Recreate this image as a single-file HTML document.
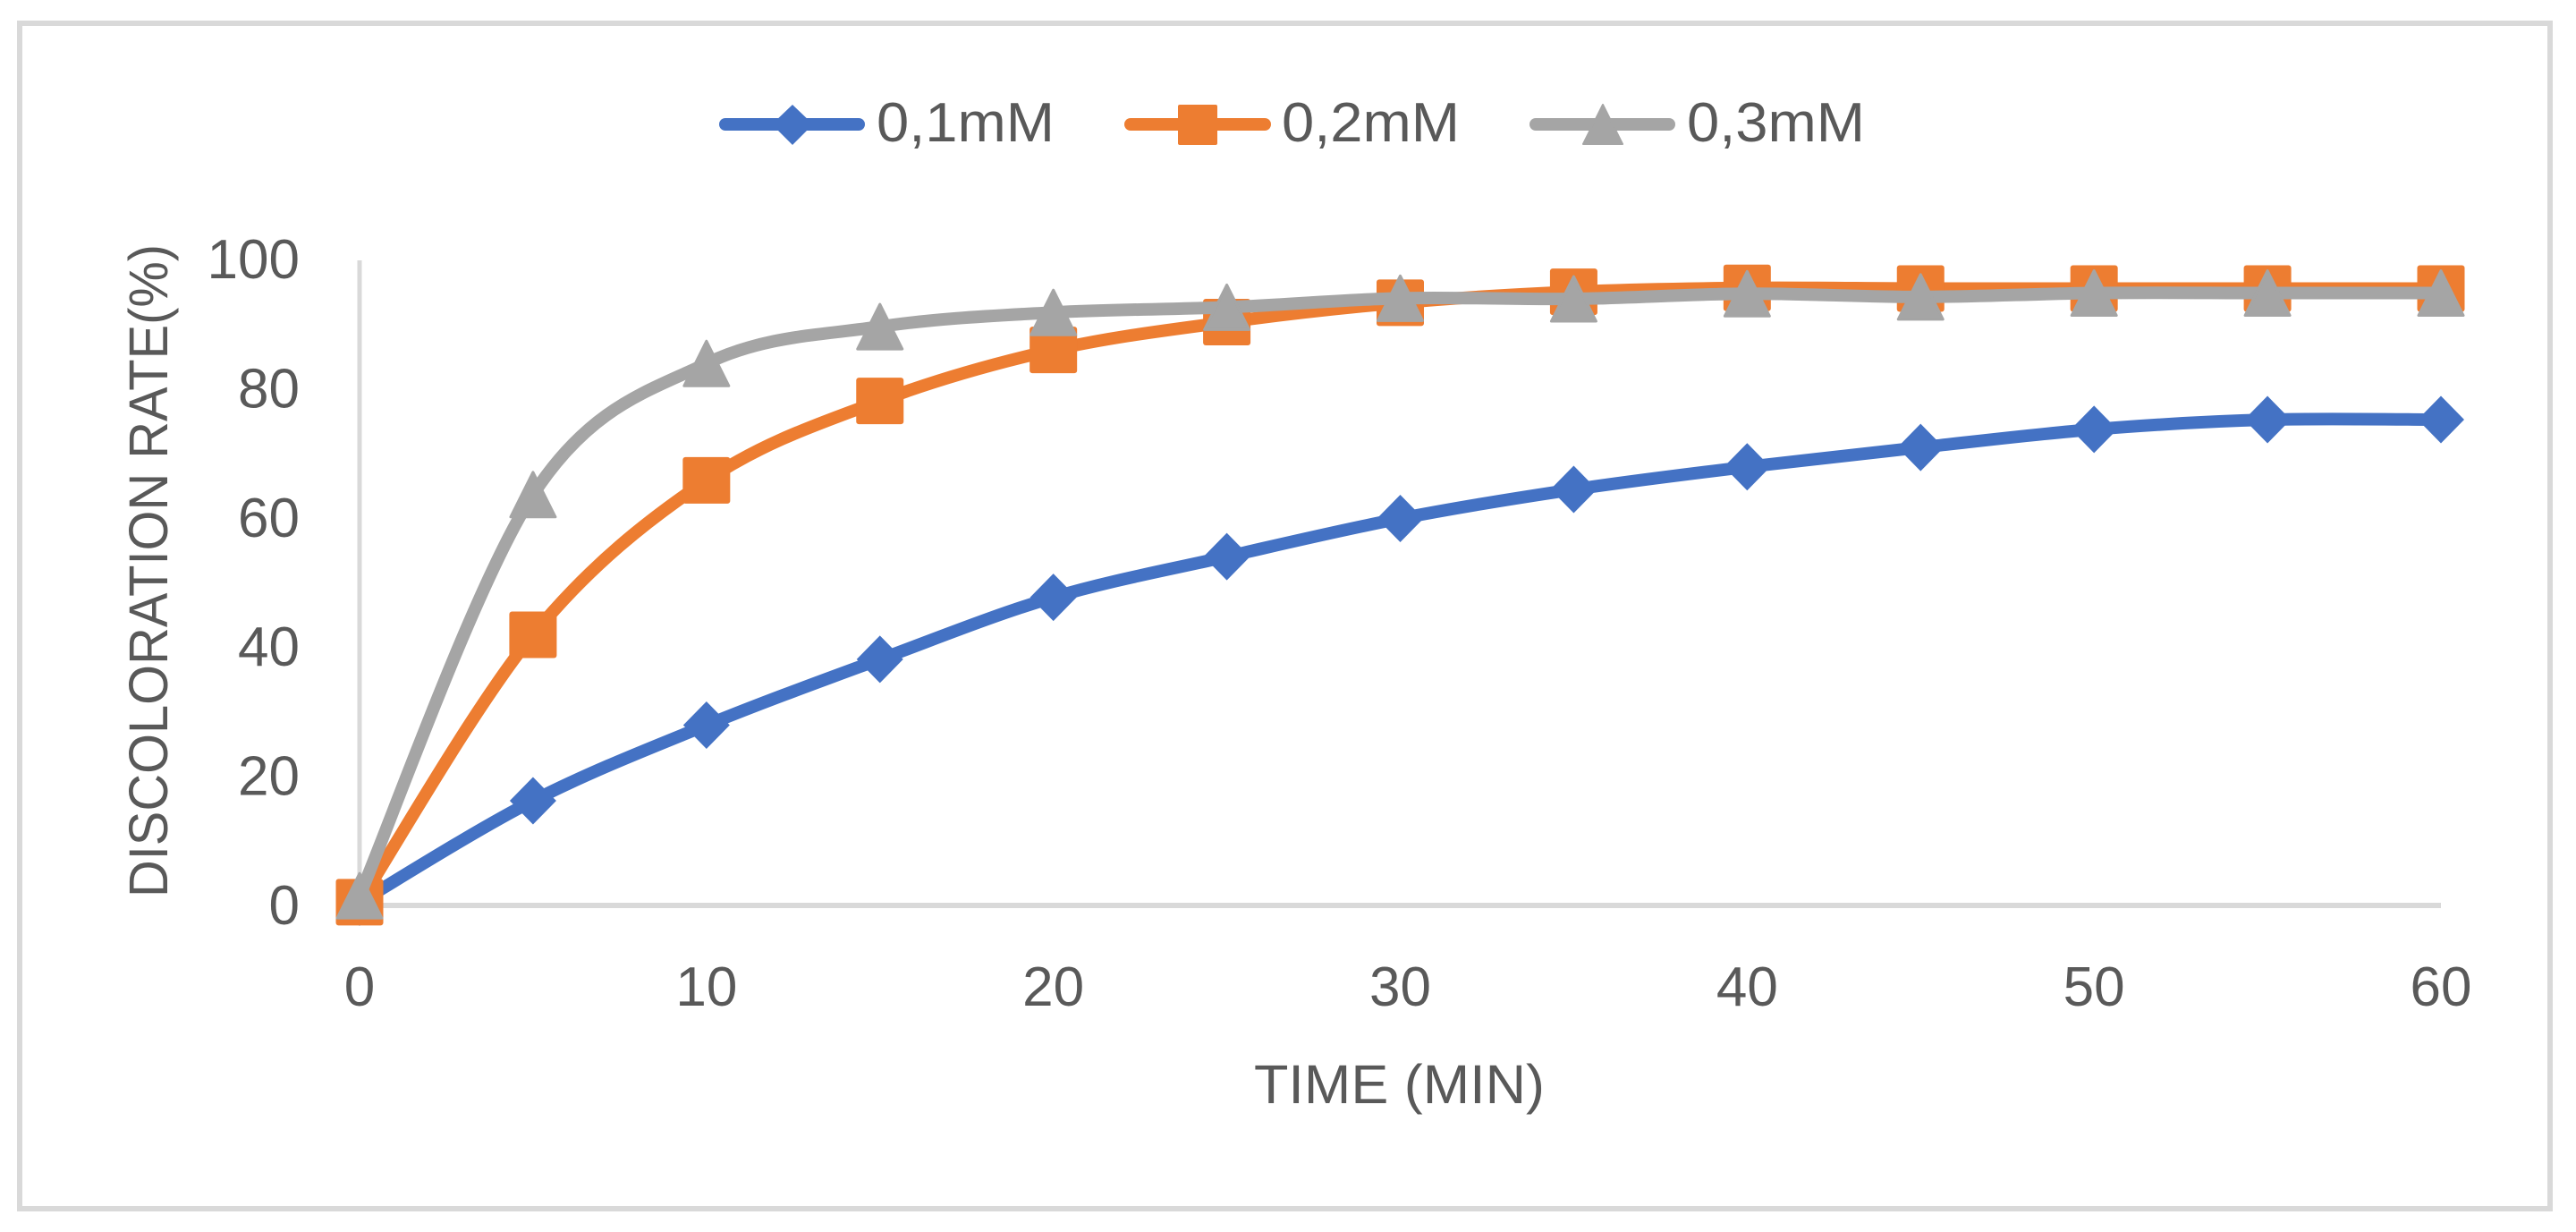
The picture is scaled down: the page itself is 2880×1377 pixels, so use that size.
<!DOCTYPE html>
<html lang="en">
<head>
<meta charset="utf-8">
<title>Discoloration rate over time</title>
<style>
  html, body { margin: 0; padding: 0; background: #fff; }
  svg { display: block; }
  text { font-family: "Liberation Sans", sans-serif; fill: #595959; }
</style>
</head>
<body>
<svg id="chart" xmlns="http://www.w3.org/2000/svg" width="2880" height="1377" viewBox="0 0 2880 1377">
  <rect x="0" y="0" width="2880" height="1377" fill="#ffffff"/>
  <rect x="22" y="26" width="2829" height="1325" fill="#ffffff" stroke="#d9d9d9" stroke-width="6"/>

  <g>
    <g>
      <line x1="811" y1="139" x2="960" y2="139" stroke="#4472c4" stroke-width="14" stroke-linecap="round"/>
      <polygon points="886,117 909,139 886,162 863,139" fill="#4472c4"/>
      <text x="980" y="158" font-size="62" textLength="199" lengthAdjust="spacingAndGlyphs">0,1mM</text>
    </g>
    <g>
      <line x1="1264" y1="139" x2="1414" y2="139" stroke="#ed7d31" stroke-width="14" stroke-linecap="round"/>
      <rect x="1317" y="117" width="44" height="45" rx="2" fill="#ed7d31"/>
      <text x="1433" y="158" font-size="62" textLength="199" lengthAdjust="spacingAndGlyphs">0,2mM</text>
    </g>
    <g>
      <line x1="1717" y1="139" x2="1866" y2="139" stroke="#a5a5a5" stroke-width="14" stroke-linecap="round"/>
      <polygon points="1792,117 1814,161 1770,161" fill="#a5a5a5" stroke="#a5a5a5" stroke-width="2" stroke-linejoin="round"/>
      <text x="1886" y="158" font-size="62" textLength="199" lengthAdjust="spacingAndGlyphs">0,3mM</text>
    </g>
  </g>

  <text transform="translate(187,1003) rotate(-90)" font-size="61" textLength="730" lengthAdjust="spacingAndGlyphs">DISCOLORATION RATE(%)</text>
  <text x="1402" y="1233" font-size="61" textLength="325" lengthAdjust="spacingAndGlyphs">TIME (MIN)</text>

  <g id="axes"></g>
  <g id="series"></g>
</svg>
<script>
const categories = [0, 5, 10, 15, 20, 25, 30, 35, 40, 45, 50, 55, 60];
const blueValues = [0.5, 16.2, 27.9, 38.1, 47.7, 54, 59.9, 64.4, 67.9, 70.9, 73.7, 75.2, 75.2];
const orangeValues = [0.5, 41.9, 65.8, 78.1, 86, 90.3, 93.3, 95, 95.6, 95.5, 95.5, 95.5, 95.5];
const greyValues = [1.5, 63.6, 83.9, 89.6, 91.8, 92.6, 94, 93.9, 94.7, 94.2, 94.8, 94.8, 94.8];
const xTickLabels = [0, 10, 20, 30, 40, 50, 60];
const yTickLabels = [0, 20, 40, 60, 80, 100];

const NS = 'http://www.w3.org/2000/svg';
function xScale(v) { return 402 + (v / 60) * 2327; }
function yScale(v) { return 1012 - (v / 100) * 722; }

function make(tag, attrs, parent) {
  const el = document.createElementNS(NS, tag);
  for (const k in attrs) el.setAttribute(k, attrs[k]);
  parent.appendChild(el);
  return el;
}

const axes = document.getElementById('axes');
const seriesLayer = document.getElementById('series');

const yAxis = make('line', { x1: xScale(0), y1: yScale(100) + 1, x2: xScale(0), y2: yScale(0) + 3, stroke: '#d9d9d9', 'stroke-width': 5 }, axes);


const xAxis = make('line', { x1: xScale(0), y1: yScale(0), x2: xScale(60), y2: yScale(0), stroke: '#d9d9d9', 'stroke-width': 6 }, axes);



yTickLabels.forEach(function (t) {
  const label = make('text', { x: 335, y: yScale(t) + 21, 'font-size': 62, 'text-anchor': 'end' }, axes);
  label.textContent = String(t);
  
  
});
xTickLabels.forEach(function (t) {
  const label = make('text', { x: xScale(t), y: 1124, 'font-size': 62, 'text-anchor': 'middle' }, axes);
  label.textContent = String(t);
  
  
});

function smoothPath(pts) {
  let d = 'M' + pts[0][0] + ' ' + pts[0][1];
  for (let i = 0; i < pts.length - 1; i++) {
    const p0 = pts[Math.max(i - 1, 0)];
    const p1 = pts[i];
    const p2 = pts[i + 1];
    const p3 = pts[Math.min(i + 2, pts.length - 1)];
    const c1x = p1[0] + (p2[0] - p0[0]) / 6;
    const c1y = p1[1] + (p2[1] - p0[1]) / 6;
    const c2x = p2[0] - (p3[0] - p1[0]) / 6;
    const c2y = p2[1] - (p3[1] - p1[1]) / 6;
    d += 'C' + c1x + ' ' + c1y + ' ' + c2x + ' ' + c2y + ' ' + p2[0] + ' ' + p2[1];
  }
  return d;
}

function drawSeries(values, color, shape, lineName, markerName) {
  const pts = values.map(function (v, i) { return [xScale(categories[i]), yScale(v)]; });
  const line = make('path', { d: smoothPath(pts), fill: 'none', stroke: color, 'stroke-width': 14, 'stroke-linecap': 'round', 'stroke-linejoin': 'round' }, seriesLayer);
  
  
  pts.forEach(function (p) {
    const x = p[0], y = p[1];
    let marker;
    if (shape === 'diamond') {
      marker = make('polygon', { points: [x, y - 26.5, x + 26, y, x, y + 26.5, x - 26, y].join(' '), fill: color }, seriesLayer);
    } else if (shape === 'square') {
      marker = make('rect', { x: x - 26.5, y: y - 26, width: 53, height: 52, rx: 3, fill: color }, seriesLayer);
    } else {
      marker = make('polygon', { points: [x, y - 25, x + 25, y + 25, x - 25, y + 25].join(' '), fill: color, stroke: color, 'stroke-width': 3, 'stroke-linejoin': 'round' }, seriesLayer);
    }
    
    
  });
}

drawSeries(blueValues, '#4472c4', 'diamond', 'line-0-1mm', 'marker-0-1mm');
drawSeries(orangeValues, '#ed7d31', 'square', 'line-0-2mm', 'marker-0-2mm');
drawSeries(greyValues, '#a5a5a5', 'triangle', 'line-0-3mm', 'marker-0-3mm');
</script>
</body>
</html>
